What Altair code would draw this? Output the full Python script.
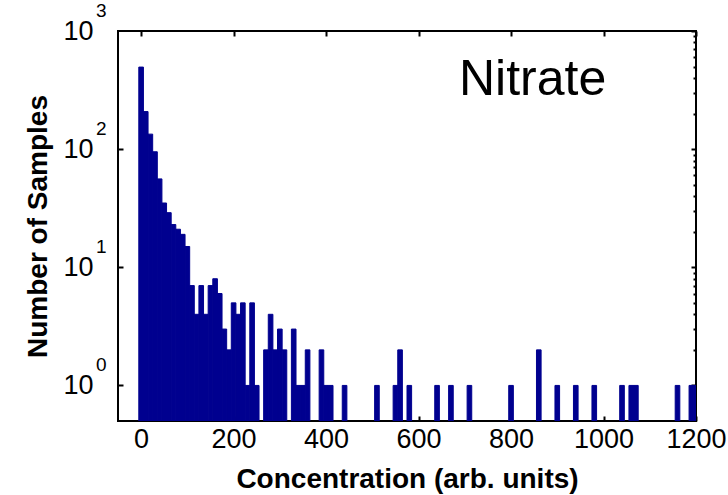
import altair as alt
import pandas as pd

# ---- data (bin centre, count) ----
bin_centers = [0, 10, 20, 30, 40, 50, 60, 70, 80, 90, 100, 110, 120, 130, 140, 150,
               160, 170, 180, 190, 200, 210, 220, 230, 240, 250, 270, 280, 290, 300,
               310, 330, 340, 350, 360, 390, 400, 410, 440, 510, 550, 560, 580, 640,
               670, 710, 800, 860, 900, 940, 980, 1040, 1060, 1070, 1160, 1190, 1200]
counts = [495, 208, 134, 95, 56, 35, 29, 23, 21, 19, 15, 7, 4, 7, 4, 7,
          8, 6, 3, 2, 5, 4, 5, 1, 5, 1, 2, 4, 2, 3,
          2, 3, 1, 1, 2, 2, 1, 1, 1, 1, 1, 2, 1, 1,
          1, 1, 1, 2, 1, 1, 1, 1, 1, 1, 1, 1, 1]
bin_width = 10
y_floor = 0.5
x_ticks = [0, 200, 400, 600, 800, 1000, 1200]
y_major = [1, 10, 100, 1000]
y_minor = [2, 3, 4, 5, 6, 7, 8, 9, 20, 30, 40, 50, 60, 70, 80, 90,
           200, 300, 400, 500, 600, 700, 800, 900]
annotation = ["Nitrate"]

df = pd.DataFrame({"center": bin_centers, "count": counts})
df["start"] = df["center"] - bin_width / 2
df["end"] = df["center"] + bin_width / 2
df["floor"] = y_floor

W, H = 578, 390
FONT = "Liberation Sans"
BAR = "#00008F"

xscale = alt.Scale(domain=[-50, 1200], nice=False, zero=False)
yscale = alt.Scale(type="log", domain=[y_floor, 1000], nice=False)

base = alt.Chart(df)

bars = base.mark_bar(color=BAR, clip=True, stroke=BAR, strokeWidth=1).encode(
    x=alt.X("start:Q", scale=xscale,
            axis=alt.Axis(orient="bottom", values=x_ticks, format="d", ticks=False,
                          tickSize=0, domain=False, grid=False, labelPadding=5,
                          labelFontSize=27, labelFont=FONT, labelColor="black",
                          labelFlush=False, labelOverlap=False,
                          title="Concentration (arb. units)", titleFont=FONT,
                          titleFontSize=28, titleFontWeight="bold", titleColor="black",
                          titleX=W / 2, titleY=66, titleAlign="center",
                          titleBaseline="alphabetic")),
    x2="end:Q",
    y=alt.Y("count:Q", scale=yscale, stack=None,
            axis=alt.Axis(orient="left", values=y_major, labelExpr="'10'", ticks=False,
                          tickSize=0, domain=False, grid=False, labelPadding=25,
                          labelFontSize=27, labelFont=FONT, labelColor="black",
                          labelBaseline="middle", labelOverlap=False,
                          title="Number of Samples", titleFont=FONT, titleFontSize=28,
                          titleFontWeight="bold", titleColor="black", titleAngle=270,
                          titleX=-80, titleY=H / 2, titleAlign="center",
                          titleBaseline="middle")),
    y2="floor:Q",
)

# exponents of the y labels (10^k)
exponents = base.mark_point(opacity=0).encode(
    x=alt.X("center:Q", scale=xscale, axis=None),
    y=alt.Y("count:Q", scale=yscale,
            axis=alt.Axis(orient="left", values=y_major,
                          labelExpr="'' + round(log(datum.value) / LN10)",
                          ticks=False, tickSize=0, domain=False, grid=False,
                          labelPadding=12, labelOffset=-21, labelFontSize=19,
                          labelBaseline="middle",
                          labelFont=FONT, labelColor="black", labelOverlap=False,
                          title=None)),
)

# inward ticks: top edge and left edge
ticks_a = base.mark_point(opacity=0).encode(
    x=alt.X("center:Q", scale=xscale,
            axis=alt.Axis(orient="bottom", offset=-H, values=x_ticks, labels=False,
                          domain=False, grid=False, tickSize=5, tickWidth=2,
                          tickColor="black", title=None)),
    y=alt.Y("count:Q", scale=yscale,
            axis=alt.Axis(orient="right", offset=-W, values=[1, 10, 100], labels=False,
                          domain=False, grid=False, tickSize=5, tickWidth=2,
                          tickColor="black", title=None)),
)

# inward ticks: bottom edge and right edge (with minor ticks)
ticks_b = base.mark_point(opacity=0).encode(
    x=alt.X("center:Q", scale=xscale,
            axis=alt.Axis(orient="top", offset=-H, values=x_ticks, labels=False,
                          domain=False, grid=False, tickSize=5, tickWidth=2,
                          tickColor="black", title=None)),
    y=alt.Y("count:Q", scale=yscale,
            axis=alt.Axis(orient="left", offset=-W, values=y_major + y_minor,
                          labels=False, domain=False, grid=False,
                          tickSize={"condition": {"test": "indexof([1, 10, 100, 1000], datum.value) >= 0",
                                                  "value": 5}, "value": 3},
                          tickWidth=2, tickColor="black", title=None)),
)

label = alt.Chart(pd.DataFrame({"label": annotation})).mark_text(
    align="left", baseline="alphabetic", fontSize=50, font=FONT, color="black"
).encode(x=alt.value(341), y=alt.value(64), text="label:N")

chart = alt.layer(ticks_a, ticks_b, bars, exponents, label).resolve_scale(
    x="shared", y="shared"
).resolve_axis(
    x="independent", y="independent"
).properties(
    width=W, height=H,
    autosize=alt.AutoSizeParams(type="none"),
    padding={"left": 118, "top": 31, "right": 32, "bottom": 74},
    background="white",
).configure_view(stroke="black", strokeWidth=2)

chart.save("out.html", embed_options={"renderer": "svg", "actions": False})
